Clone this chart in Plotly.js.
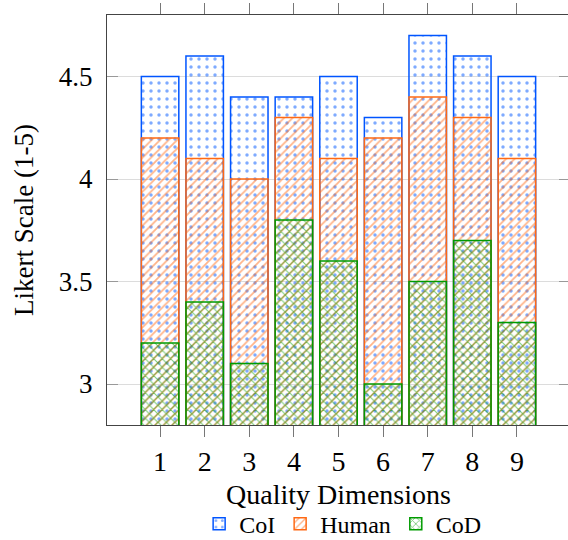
<!DOCTYPE html>
<html>
<head>
<meta charset="utf-8">
<script src="https://cdn.plot.ly/plotly-3.0.1.min.js"></script>
<style>
html,body{margin:0;padding:0;overflow:hidden;background:#fff;}
#chart{width:570px;height:540px;}
</style>
</head>
<body>
<div id="chart"></div>
<script>
const dimensions = [1, 2, 3, 4, 5, 6, 7, 8, 9];
const coiScores = [4.5, 4.6, 4.4, 4.4, 4.5, 4.3, 4.7, 4.6, 4.5];
const humanScores = [4.2, 4.1, 4.0, 4.3, 4.1, 4.2, 4.4, 4.3, 4.1];
const codScores = [3.2, 3.4, 3.1, 3.8, 3.6, 3.0, 3.5, 3.7, 3.3];
const yTicks = [3, 3.5, 4, 4.5];
const yTickLabels = ['3', '3.5', '4', '4.5'];

const FONT = '"Liberation Serif", "DejaVu Serif", serif';
const BLUE = 'rgb(0,85,255)';
const ORANGE = 'rgb(255,105,20)';
const GREEN = 'rgb(0,155,0)';

function barTrace(name, values, color, shape, size, solidity) {
  return {
    type: 'bar',
    name: name,
    x: dimensions,
    y: values,
    width: 0.84,
    marker: {
      color: 'rgba(0,0,0,0)',
      line: {color: color, width: 1.5},
      pattern: {shape: shape, fgcolor: color, bgcolor: 'rgba(0,0,0,0)', size: size, solidity: solidity, fillmode: 'overlay'}
    },
    hoverinfo: 'x+y+name'
  };
}

const data = [
  barTrace('CoI', coiScores, BLUE, '.', 8, 0.15),
  barTrace('Human', humanScores, ORANGE, '/', 6, 0.3),
  barTrace('CoD', codScores, GREEN, 'x', 6, 0.35)
];

const layout = {
  width: 570,
  height: 540,
  margin: {l: 107, r: 0, t: 15, b: 115, autoexpand: false},
  paper_bgcolor: '#fff',
  plot_bgcolor: '#fff',
  barmode: 'overlay',
  font: {family: FONT, size: 27, color: '#000'},
  showlegend: true,
  legend: {
    orientation: 'h',
    x: 0.51, xanchor: 'center',
    y: -0.242, yanchor: 'middle',
    font: {family: FONT, size: 24, color: '#000'},
    itemwidth: 30,
    tracegroupgap: 0,
    traceorder: 'normal'
  },
  xaxis: {
    range: [-0.19, 10.19],
    tickvals: dimensions,
    ticktext: dimensions.map(String),
    ticks: 'outside',
    ticklen: 11,
    tickcolor: '#777',
    tickwidth: 1,
    showline: true,
    linecolor: '#444',
    linewidth: 1,
    mirror: 'ticks',
    showgrid: false,
    zeroline: false,
    automargin: false,
    tickfont: {family: FONT, size: 28, color: '#000'},
    title: {text: 'Quality Dimensions', font: {family: FONT, size: 28, color: '#000'}, standoff: 8}
  },
  yaxis: {
    range: [2.8, 4.8],
    tickvals: yTicks,
    ticktext: yTickLabels,
    ticks: 'inside',
    ticklen: 11,
    tickcolor: '#999',
    tickwidth: 1,
    showline: true,
    linecolor: '#444',
    linewidth: 1,
    mirror: 'ticks',
    showgrid: true,
    gridcolor: '#dcdcdc',
    gridwidth: 1,
    zeroline: false,
    automargin: false,
    ticklabelstandoff: 8,
    tickfont: {family: FONT, size: 27, color: '#000'},
    title: {text: 'Likert Scale (1-5)', font: {family: FONT, size: 27, color: '#000'}, standoff: 17}
  }
};

Plotly.newPlot('chart', data, layout, {displayModeBar: false, staticPlot: true});
</script>
</body>
</html>
